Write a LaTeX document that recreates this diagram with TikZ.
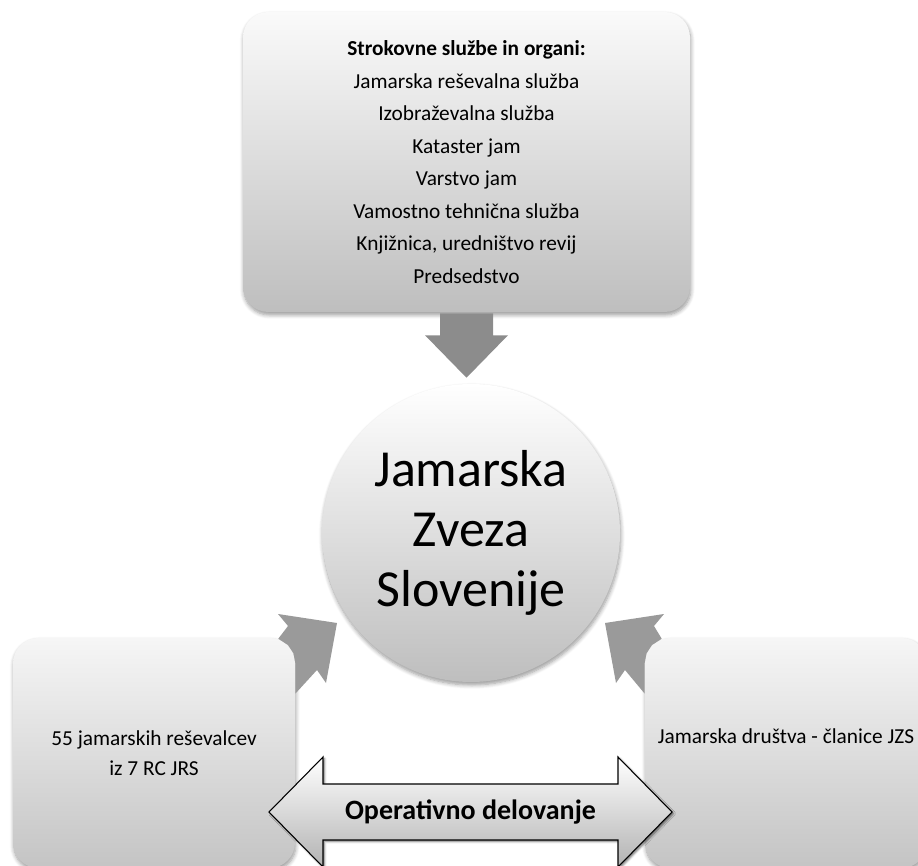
\documentclass[tikz,border=0pt]{standalone}
\usepackage{fontspec}
\setmainfont{Carlito}
\usepackage{tikz}
\usetikzlibrary{calc,shadows.blur}

\definecolor{boxtop}{HTML}{FAFAFA}
\definecolor{boxbottom}{HTML}{BEBEBE}
\definecolor{sidetop}{HTML}{F6F6F6}
\definecolor{sidebottom}{HTML}{C4C4C4}
\definecolor{arrowgray}{HTML}{8C8C8C}
\definecolor{sidegray}{HTML}{9A9A9A}

\begin{document}
\begin{tikzpicture}[x=0.75pt,y=-0.75pt,
    softshadow/.style={blur shadow={shadow xshift=0.6pt,shadow yshift=-2.2pt,
        shadow blur steps=6,shadow blur radius=3pt,shadow opacity=40}},
    orgbox/.style={rectangle,rounded corners=19pt,top color=boxtop,
        bottom color=boxbottom,align=center,softshadow},
    sidebox/.style={orgbox,top color=sidetop,bottom color=sidebottom,
        minimum width=211.5pt,minimum height=172.5pt,
        font=\fontsize{16}{22.5}\selectfont},
    downarrow/.style={fill=arrowgray},
    sidearrow/.style={fill=sidegray},
    bigarrow/.style={draw=black,line width=0.8pt,line join=miter,
        top color=white,bottom color=black!30,
        blur shadow={shadow xshift=1.2pt,shadow yshift=-1.2pt,
        shadow blur steps=4,shadow blur radius=1.5pt,shadow opacity=55}}]

\useasboundingbox (0,0) rectangle (918,866);

\node[orgbox,minimum width=335.25pt,minimum height=225pt,
      font=\fontsize{16}{24.4}\selectfont] (organi) at (466.5,162)
    {\textbf{Strokovne službe in organi:}\\
     Jamarska reševalna služba\\
     Izobraževalna služba\\
     Kataster jam\\
     Varstvo jam\\
     Vamostno tehnična služba\\
     Knjižnica, uredništvo revij\\
     Predsedstvo};

\node[circle,minimum size=223.5pt,inner sep=0pt,top color=white,
      bottom color=boxbottom,softshadow,align=center,
      font=\fontsize{39}{45}\selectfont] (jzs) at (471,533)
    {Jamarska\\Zveza\\Slovenije};

\node[sidebox] (resevalci) at (154,753) {55 jamarskih reševalcev\\iz 7 RC JRS};
\node[sidebox,text depth=26pt] (drustva) at (786,753) {Jamarska društva - članice JZS};

\fill[downarrow] ($(organi.south)+(-26.5,1)$) -- ($(organi.south)+(-26.5,23)$)
    -- ($(organi.south)+(-41.5,23)$) -- ($(organi.south |- jzs.north)+(0,-6)$)
    -- ($(organi.south)+(41.5,23)$) -- ($(organi.south)+(26.5,23)$)
    -- ($(organi.south)+(26.5,1)$) -- cycle;

\fill[sidearrow] ($(jzs)+(-134,90)$) -- ($(jzs)+(-193,81)$) -- ($(jzs)+(-183,93)$)
    -- ($(resevalci.north east)+(-17,1)$) -- ($(resevalci.north east)+(-7.3,7.3)$)
    -- ($(resevalci.north east)+(-1.8,15.6)$) -- ($(resevalci.north east)+(0,25)$)
    -- ($(resevalci.north east)+(0,56)$) -- ($(jzs)+(-154,137)$)
    -- ($(jzs)+(-145,150)$) -- cycle;

\fill[sidearrow] ($(jzs)+(134,90)$) -- ($(jzs)+(193,81)$) -- ($(jzs)+(183,93)$)
    -- ($(drustva.north west)+(17,1)$) -- ($(drustva.north west)+(7.3,7.3)$)
    -- ($(drustva.north west)+(1.8,15.6)$) -- ($(drustva.north west)+(0,25)$)
    -- ($(drustva.north west)+(0,56)$) -- ($(jzs)+(154,137)$)
    -- ($(jzs)+(145,150)$) -- cycle;

\coordinate (mid) at (470.5,812);
\draw[bigarrow] ($(mid)+(-201.5,0)$) -- ++(54,-55) -- ++(0,27) -- ++(295,0)
    -- ++(0,-27) -- ++(54,55) -- ++(-54,55) -- ++(0,-27) -- ++(-295,0)
    -- ++(0,27) -- cycle;
\node[font=\fontsize{21}{25}\selectfont\bfseries] (operativno) at (mid) {Operativno delovanje};

\end{tikzpicture}
\end{document}
